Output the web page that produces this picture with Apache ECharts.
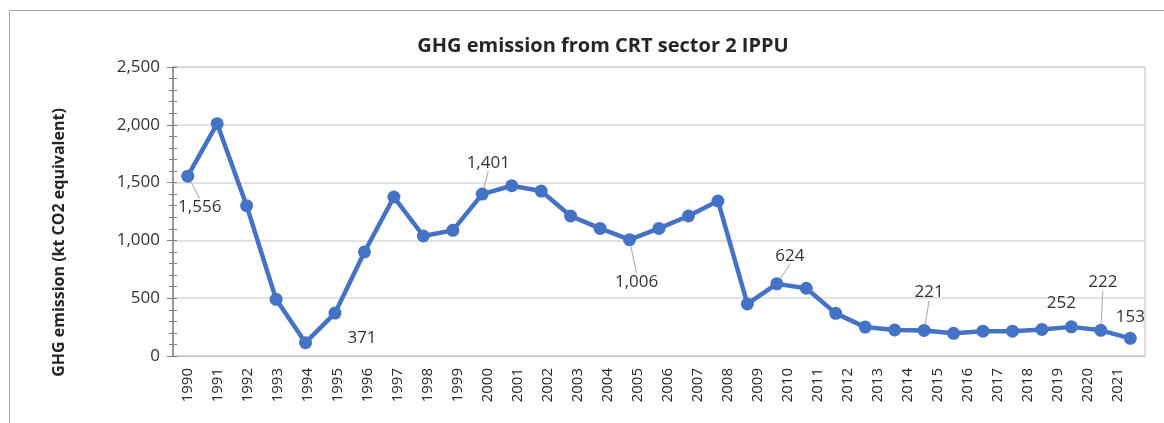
<!DOCTYPE html>
<html>
<head>
<meta charset="utf-8">
<title>GHG emission from CRT sector 2 IPPU</title>
<script src="https://cdn.jsdelivr.net/npm/echarts@6/dist/echarts.min.js"></script>
<style>
  html, body { margin: 0; padding: 0; background: #fff; }
  #chart { width: 1164px; height: 423px; }
</style>
</head>
<body>
<div id="chart"></div>
<script>
// x 轴文字（32 个年份）
const yearLabels = ['1990', '1991', '1992', '1993', '1994', '1995', '1996', '1997', '1998', '1999',
  '2000', '2001', '2002', '2003', '2004', '2005', '2006', '2007', '2008', '2009',
  '2010', '2011', '2012', '2013', '2014', '2015', '2016', '2017', '2018', '2019',
  '2020', '2021'];

// 折线上的点（图中共 33 个点，最后一个没有年份文字）
const emissions = [1556, 2010, 1300, 490, 115, 371, 900, 1375, 1038, 1087,
  1401, 1473, 1427, 1211, 1104, 1006, 1104, 1211, 1341, 450,
  624, 586, 369, 250, 225, 221, 196, 215, 215, 230,
  252, 222, 153];

// 显示数值标签的点
const labelledPoints = [0, 5, 10, 15, 20, 25, 30, 31, 32];
// 没有引导线的标签
const noLeader = [5, 30, 32];

const yTicks = { min: 0, max: 2500, interval: 500 };

// 标签相对于点中心的偏移（像素）
const labelShift = {
  0: [12, 31], 5: [27, 25], 10: [6, -31], 15: [7, 42], 20: [13, -28],
  25: [5, -38], 30: [-10, -24], 31: [2, -48], 32: [0, -21]
};

const chart = echarts.init(document.getElementById('chart'));

const fmt = (v) => Number(v).toLocaleString('en-US');
const font = "'Open Sans', 'Noto Sans', sans-serif";

const seriesData = emissions.map((v, i) => {
  if (labelledPoints.indexOf(i) < 0) return v;
  return {
    value: v,
    label: { show: true },
    labelLine: { show: noLeader.indexOf(i) < 0 }
  };
});

const pointCategories = emissions.map((v, i) => yearLabels[i] || '');

const option = {
  animation: false,
  textStyle: { fontFamily: font },
  title: {
    text: 'GHG emission from CRT sector 2 IPPU',
    left: 598,
    textAlign: 'center',
    top: 31,
    textStyle: { fontSize: 20, fontWeight: 'bold', color: '#262626', fontFamily: font }
  },
  graphic: [{
    type: 'rect',
    shape: { x: 9.5, y: 10.5, width: 1400, height: 800 },
    style: { fill: 'none', stroke: '#a6a6a6', lineWidth: 1 },
    silent: true
  }],
  grid: [
    { left: 173, right: 19, top: 67, bottom: 67, show: true, borderColor: '#bfbfbf', borderWidth: 1 },
    { left: 173, width: 960, top: 67, bottom: 67 }
  ],
  xAxis: [
    {
      gridIndex: 0,
      type: 'category',
      data: pointCategories,
      boundaryGap: true,
      axisLine: { show: true, lineStyle: { color: '#bfbfbf' } },
      axisTick: { show: false },
      axisLabel: { show: false },
      splitLine: { show: false }
    },
    {
      gridIndex: 1,
      type: 'category',
      data: yearLabels,
      boundaryGap: true,
      axisLine: { show: false },
      axisTick: { show: false },
      axisLabel: { rotate: 90, margin: 12, fontSize: 15, color: '#262626', fontFamily: font }
    }
  ],
  yAxis: [
    {
      gridIndex: 0,
      type: 'value',
      min: yTicks.min,
      max: yTicks.max,
      interval: yTicks.interval,
      name: 'GHG emission (kt CO2 equivalent)',
      nameLocation: 'middle',
      nameGap: 106,
      nameTextStyle: { fontSize: 16, fontWeight: 'bold', color: '#262626', padding: [0, 62, 0, 0] },
      axisLine: { show: true, lineStyle: { color: '#808080', width: 1.5 } },
      axisTick: { show: true, length: 6, lineStyle: { color: '#808080' } },
      minorTick: { show: true, splitNumber: 5, length: 4, lineStyle: { color: '#808080' } },
      axisLabel: { formatter: fmt, fontSize: 17, color: '#333333', margin: 13 },
      splitLine: { show: true, lineStyle: { color: '#d9d9d9', width: 1.5 } }
    },
    {
      // 同一坐标轴的内侧刻度，做成十字刻度
      gridIndex: 0,
      type: 'value',
      position: 'left',
      min: yTicks.min,
      max: yTicks.max,
      interval: yTicks.interval,
      axisLine: { show: false },
      axisTick: { show: true, inside: true, length: 4, lineStyle: { color: '#808080' } },
      minorTick: { show: true, splitNumber: 5, length: 4, lineStyle: { color: '#808080' } },
      axisLabel: { show: false },
      splitLine: { show: false }
    },
    { gridIndex: 1, type: 'value', show: false, min: 0, max: 1 }
  ],
  series: [{
    type: 'line',
    xAxisIndex: 0,
    yAxisIndex: 0,
    data: seriesData,
    symbol: 'circle',
    symbolSize: 13,
    itemStyle: { color: '#4472c4' },
    lineStyle: { color: '#4472c4', width: 4.5 },
    label: {
      show: false,
      position: 'inside',
      formatter: (p) => fmt(p.value),
      fontSize: 17,
      color: '#333333',
      fontFamily: font
    },
    labelLine: { show: true, lineStyle: { color: '#a6a6a6', width: 1 } },
    labelLayout: (p) => {
      const s = labelShift[p.dataIndex];
      return s ? { dx: s[0], dy: s[1] } : {};
    }
  }]
};

chart.setOption(option);
window.addEventListener('resize', () => chart.resize());
</script>
</body>
</html>
